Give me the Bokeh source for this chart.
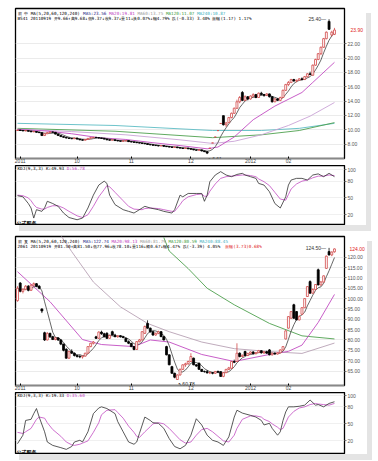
import pandas as pd
from bokeh.plotting import figure
from bokeh.models import (ColumnDataSource, Range1d, FixedTicker, Label, LinearAxis,
                          PrintfTickFormatter, Spacer)
from bokeh.layouts import column, row
from bokeh.embed import file_html
from bokeh.resources import INLINE

# ---------------- shared time axis ----------------
month_ticks = [1, 22, 42, 64, 86, 100]
month_labels = ["2011", "10", "11", "12", "2012", "02"]

# ---------------- top chart (stock 1) ----------------
top_open = [9.90, 9.95, 9.90, 9.85, 9.88, 9.80, 9.72, 9.75, 9.65, 9.60,
            9.20, 9.45, 9.60, 9.70, 9.65, 9.40, 9.20, 9.05, 8.95, 8.85,
            8.80, 8.75, 8.85, 8.70, 8.60, 8.55, 8.65, 8.80, 8.90, 8.95,
            8.90, 8.85, 8.80, 8.70, 8.60, 8.55, 8.60, 8.50, 8.45, 8.40,
            8.45, 8.50, 8.35, 8.30, 8.25, 8.20, 8.15, 8.10, 8.05, 7.95,
            7.90, 7.85, 7.80, 7.75, 7.80, 7.70, 7.65, 7.60, 7.55, 7.60,
            7.50, 7.45, 7.40, 7.45, 7.35, 7.30, 7.20, 7.15, 7.20, 7.05,
            6.95, 7.43, 8.17, 8.99, 9.89, 10.88, 11.97, 10.70, 11.00, 11.70,
            12.30, 13.00, 13.90, 15.20, 14.10, 14.60, 14.30, 14.70, 14.90, 14.50,
            15.10, 14.90, 14.80, 15.00, 14.60, 13.90, 14.30, 14.10, 14.50, 15.50,
            16.30, 16.60, 17.00, 16.80, 16.90, 17.10, 17.00, 17.40, 17.80, 17.60,
            19.00, 19.80, 20.60, 21.50, 22.70, 25.10, 23.20, 23.30]
top_close = [9.95, 9.90, 9.85, 9.88, 9.80, 9.72, 9.75, 9.65, 9.60, 9.20,
             9.45, 9.60, 9.70, 9.65, 9.40, 9.20, 9.05, 8.95, 8.85, 8.80,
             8.75, 8.85, 8.70, 8.60, 8.55, 8.65, 8.80, 8.90, 8.95, 8.90,
             8.85, 8.80, 8.70, 8.60, 8.55, 8.60, 8.50, 8.45, 8.40, 8.45,
             8.50, 8.35, 8.30, 8.25, 8.20, 8.15, 8.10, 8.05, 7.95, 7.90,
             7.85, 7.80, 7.75, 7.80, 7.70, 7.65, 7.60, 7.55, 7.60, 7.50,
             7.45, 7.40, 7.45, 7.35, 7.30, 7.20, 7.15, 7.20, 7.05, 6.95,
             6.75, 7.43, 8.17, 8.99, 9.89, 10.88, 10.70, 10.95, 11.70, 12.30,
             13.00, 13.90, 14.50, 14.10, 14.60, 14.30, 14.70, 14.90, 14.50, 15.10,
             14.90, 14.80, 15.00, 14.60, 13.90, 14.30, 14.10, 14.50, 15.50, 16.30,
             16.60, 17.00, 16.80, 16.90, 17.10, 17.00, 17.40, 17.80, 17.70, 19.00,
             19.80, 20.60, 21.50, 22.70, 23.60, 24.00, 23.60, 23.90]
top_high = [10.00, 10.00, 9.95, 9.95, 9.90, 9.85, 9.80, 9.78, 9.70, 9.62,
            9.50, 9.65, 9.75, 9.75, 9.68, 9.45, 9.25, 9.10, 9.00, 8.90,
            8.85, 8.90, 8.88, 8.72, 8.65, 8.70, 8.85, 8.95, 9.00, 8.98,
            8.92, 8.88, 8.82, 8.72, 8.65, 8.65, 8.62, 8.55, 8.48, 8.50,
            8.55, 8.52, 8.38, 8.32, 8.28, 8.22, 8.18, 8.12, 8.08, 8.00,
            7.95, 7.88, 7.82, 7.85, 7.82, 7.72, 7.68, 7.62, 7.65, 7.62,
            7.52, 7.48, 7.50, 7.48, 7.38, 7.32, 7.22, 7.25, 7.22, 7.08,
            6.98, 7.43, 8.17, 8.99, 9.89, 10.88, 11.97, 11.10, 11.80, 12.40,
            13.10, 14.20, 14.70, 15.40, 14.80, 14.70, 14.80, 15.10, 15.00, 15.20,
            15.30, 15.00, 15.10, 15.05, 14.70, 14.40, 14.40, 14.60, 15.60, 16.40,
            16.80, 17.10, 17.10, 17.00, 17.20, 17.30, 17.50, 17.90, 18.10, 19.10,
            19.90, 20.70, 21.60, 22.80, 23.70, 25.40, 23.80, 24.20]
top_low = [9.85, 9.85, 9.80, 9.80, 9.75, 9.68, 9.68, 9.60, 9.55, 9.15,
           9.15, 9.40, 9.55, 9.60, 9.35, 9.15, 9.00, 8.90, 8.80, 8.75,
           8.70, 8.72, 8.65, 8.55, 8.50, 8.52, 8.62, 8.78, 8.85, 8.85,
           8.80, 8.75, 8.65, 8.55, 8.50, 8.52, 8.45, 8.40, 8.35, 8.38,
           8.42, 8.30, 8.25, 8.20, 8.15, 8.10, 8.05, 8.00, 7.90, 7.85,
           7.80, 7.75, 7.70, 7.72, 7.65, 7.60, 7.55, 7.50, 7.52, 7.45,
           7.40, 7.35, 7.38, 7.30, 7.25, 7.15, 7.10, 7.12, 7.00, 6.90,
           6.61, 7.43, 8.17, 8.99, 9.89, 10.88, 10.60, 10.40, 10.95, 11.60,
           12.20, 12.90, 13.70, 14.00, 14.00, 14.10, 14.20, 14.50, 14.40, 14.45,
           14.80, 14.60, 14.70, 14.50, 13.80, 13.85, 14.00, 14.00, 14.45, 15.40,
           16.10, 16.50, 16.70, 16.60, 16.80, 16.90, 16.95, 17.30, 17.60, 17.50,
           18.90, 19.70, 20.40, 21.40, 22.60, 23.90, 23.00, 23.20]

top_ma20_x = [0, 10, 20, 30, 40, 50, 60, 70, 74, 80, 87, 95, 105, 109, 117]
top_ma20 = [10.05, 9.85, 9.45, 8.90, 8.65, 8.20, 7.80, 7.35, 7.60, 9.00, 11.40, 13.30, 15.20, 16.60, 19.40]
top_ma60_x = [0, 20, 40, 60, 72, 80, 90, 100, 108, 117]
top_ma60 = [10.10, 9.75, 9.30, 8.60, 8.10, 8.40, 9.30, 10.60, 11.90, 13.80]
top_ma120_x = [0, 36, 72, 90, 104, 117]
top_ma120 = [10.20, 9.80, 8.90, 9.30, 9.90, 11.00]
top_ma240_x = [0, 36, 72, 90, 104, 117]
top_ma240 = [10.90, 10.60, 9.90, 9.90, 10.20, 10.90]

top_kdj_x = [0, 2, 4, 5, 6, 7, 9, 10, 11, 13, 15, 17, 19, 22, 24, 26, 28, 30, 32, 33,
             34, 36, 39, 41, 43, 46, 47, 49, 52, 54, 57, 58, 60, 61, 63, 66, 68, 69, 70, 71,
             73, 75, 77, 79, 81, 83, 84, 86, 88, 89, 91, 93, 95, 97, 99, 100, 101, 103, 105, 107,
             109, 111, 113, 115, 117]
top_k = [54, 52, 40, 32, 14, 29, 26, 32, 44, 40, 35, 23, 15, 11, 14, 32, 55, 73, 80, 76,
         55, 38, 29, 26, 23, 32, 35, 32, 29, 26, 23, 29, 55, 52, 58, 58, 58, 44, 55, 79,
         91, 97, 91, 88, 92, 94, 91, 88, 85, 76, 73, 61, 40, 32, 52, 73, 82, 85, 85, 82,
         91, 93, 88, 94, 88]
top_d = [55, 54, 50, 45, 38, 33, 30, 30, 33, 36, 36, 32, 26, 18, 15, 20, 35, 52, 65, 72,
         70, 60, 45, 35, 30, 29, 31, 32, 31, 29, 26, 26, 38, 45, 52, 56, 57, 53, 53, 62,
         75, 85, 88, 89, 90, 91, 91, 90, 88, 84, 79, 72, 60, 48, 46, 56, 66, 75, 80, 82,
         86, 89, 89, 91, 90]

top_yticks = [8, 10, 12, 14, 16, 18, 20, 22]
top_hdr1 = [("前 中 MA(5,20,60,120,240) ", "#000000"), ("MA5:23.56 ", "#1a1a80"),
            ("MA20:19.81 ", "#c040c0"), ("MA60:13.75 ", "#9a9a9a"),
            ("MA120:11.07 ", "#3c9c3c"), ("MA240:10.87", "#40b0c0")]
top_hdr2 = [("BS41 20110919 开9.66↑高9.68↓低9.37↓收9.37↓量11↓换0.07%↓幅4.79% 跌(-0.33) 3.40% 振幅(1.17) 1.17%", "#000000")]
top_kdj_hdr = [("KDJ(9,3,3) K:49.93 ", "#000000"), ("D:56.78", "#c040c0")]

# ---------------- bottom chart (stock 2) ----------------
bot_open = [99.0, 107.5, 103.5, 104.5, 106.0, 104.0, 106.5, 107.2, 106.0, 95.0,
            83.5, 80.0, 83.2, 81.6, 80.2, 81.0, 80.0, 78.0, 75.5, 71.2,
            74.5, 73.6, 72.5, 72.0, 71.8, 72.2, 73.6, 76.8, 78.4, 81.5,
            80.8, 83.8, 83.0, 83.2, 80.8, 84.0, 82.4, 81.6, 82.0, 81.5,
            80.8, 79.2, 78.4, 76.8, 75.4, 79.2, 80.0, 83.2, 88.0, 85.7,
            84.0, 82.4, 83.2, 84.0, 81.6, 76.8, 72.8, 67.1, 63.9, 60.9,
            63.1, 65.8, 68.0, 68.5, 69.6, 71.2, 68.0, 68.8, 65.8, 64.8,
            64.7, 64.1, 64.2, 63.9, 64.8, 64.7, 62.4, 64.2, 65.8, 66.3,
            69.6, 69.6, 73.6, 72.0, 74.4, 72.5, 73.5, 74.2, 73.4, 73.9,
            74.8, 73.8, 74.3, 75.2, 72.8, 73.6, 73.2, 73.8, 75.2, 80.5,
            85.7, 90.5, 97.0, 93.7, 89.7, 92.4, 95.6, 101.0, 108.2, 102.6,
            104.4, 113.9, 106.6, 108.0, 114.6, 122.7, 121.1, 122.6]
bot_close = [105.0, 103.5, 104.5, 106.0, 104.0, 106.5, 107.2, 106.0, 105.0, 94.0,
             80.0, 83.2, 81.5, 80.2, 81.0, 80.0, 78.0, 75.0, 71.2, 74.5,
             73.6, 72.5, 72.0, 71.8, 72.2, 73.6, 76.8, 78.4, 79.0, 80.8,
             83.8, 83.0, 81.6, 80.8, 82.2, 82.4, 81.6, 82.0, 81.5, 81.2,
             79.2, 78.4, 76.8, 75.4, 79.2, 80.0, 84.0, 86.5, 85.7, 84.0,
             82.4, 83.2, 84.0, 81.6, 80.0, 72.8, 68.0, 63.9, 62.0, 63.1,
             65.8, 68.0, 68.5, 69.6, 72.0, 68.0, 67.4, 65.8, 64.8, 64.7,
             64.1, 64.2, 63.9, 64.8, 64.5, 62.4, 64.2, 65.8, 66.5, 69.6,
             69.2, 73.6, 72.0, 72.6, 72.5, 73.5, 74.2, 73.4, 73.9, 74.8,
             73.8, 74.3, 73.6, 72.8, 73.6, 73.2, 73.8, 75.2, 76.8, 84.4,
             91.3, 93.7, 90.5, 89.7, 91.3, 95.6, 100.0, 105.8, 102.6, 104.4,
             106.8, 106.6, 108.0, 111.0, 120.5, 121.1, 122.5, 124.0]
bot_high = [106.0, 108.0, 105.0, 106.5, 106.5, 107.0, 107.8, 107.5, 106.5, 95.2,
            84.0, 83.8, 83.5, 82.0, 81.5, 81.2, 80.5, 78.2, 76.0, 74.8,
            75.5, 74.0, 73.0, 72.8, 72.5, 73.8, 77.0, 78.6, 79.5, 82.0,
            84.2, 84.5, 83.5, 83.8, 82.5, 84.5, 83.0, 82.4, 82.3, 82.0,
            81.0, 79.8, 78.6, 77.2, 79.4, 80.5, 84.2, 87.0, 89.5, 86.0,
            84.3, 83.6, 84.5, 84.3, 81.9, 77.2, 73.0, 67.5, 64.2, 63.3,
            66.2, 68.2, 69.0, 70.0, 73.6, 71.5, 68.3, 69.0, 66.0, 65.2,
            65.5, 64.8, 64.5, 65.0, 65.2, 65.0, 64.5, 66.0, 67.0, 69.8,
            70.5, 78.4, 74.0, 73.0, 74.8, 73.8, 74.5, 74.6, 74.2, 75.2,
            75.0, 74.6, 74.8, 75.6, 73.9, 74.0, 74.1, 75.4, 77.0, 84.8,
            91.5, 94.0, 97.5, 94.0, 92.0, 95.8, 100.2, 106.0, 108.8, 105.0,
            107.0, 114.5, 108.5, 111.2, 120.8, 124.5, 122.8, 124.2]
bot_low = [98.5, 103.0, 102.5, 104.0, 103.5, 103.8, 106.0, 105.5, 104.5, 93.0,
           79.5, 79.8, 81.0, 80.0, 79.8, 79.5, 77.5, 74.5, 71.0, 70.8,
           73.3, 72.0, 71.5, 71.2, 71.0, 72.0, 73.5, 76.5, 77.8, 80.5,
           80.5, 82.5, 81.2, 80.5, 80.5, 82.2, 81.3, 81.0, 81.2, 80.8,
           79.0, 78.0, 76.5, 75.0, 75.2, 78.8, 79.8, 83.0, 85.5, 83.5,
           82.0, 82.0, 82.8, 81.4, 79.8, 72.6, 67.8, 63.7, 61.5, 60.78,
           62.8, 65.5, 67.0, 68.0, 69.4, 67.8, 67.0, 65.6, 64.5, 64.2,
           63.8, 63.5, 63.4, 63.6, 64.0, 62.2, 62.0, 64.0, 65.5, 66.0,
           68.8, 69.4, 71.6, 71.8, 72.3, 72.2, 73.0, 73.0, 73.0, 73.6,
           73.4, 73.2, 73.3, 72.6, 72.5, 72.9, 73.0, 73.6, 75.0, 80.2,
           85.5, 90.2, 90.3, 89.5, 89.4, 92.0, 95.4, 100.8, 102.4, 102.3,
           104.0, 106.4, 106.2, 107.8, 114.4, 120.8, 120.5, 122.2]

bot_ma20_x = [0, 12, 24, 31, 43, 49, 56, 68, 80, 93, 100, 105, 111, 117]
bot_ma20 = [113.0, 98.5, 80.2, 77.8, 76.8, 80.0, 79.0, 73.0, 69.6, 73.0, 74.5, 77.5, 88.5, 102.0]
bot_ma60_x = [16, 20, 28, 38, 48, 56, 68, 80, 93, 105, 117]
bot_ma60 = [130.5, 122.7, 108.0, 96.0, 88.0, 84.0, 79.0, 75.8, 74.4, 73.5, 78.5]
bot_ma120_x = [54, 56, 63, 70, 80, 93, 105, 117]
bot_ma120 = [129.5, 123.0, 114.5, 105.0, 97.0, 88.0, 82.0, 80.5]

bot_kdj_x = [0, 2, 3, 5, 6, 7, 8, 10, 11, 13, 16, 18, 20, 21, 23, 24, 26, 28, 30, 31,
             33, 36, 37, 39, 41, 43, 44, 45, 47, 49, 50, 52, 54, 56, 58, 60, 62, 64, 66, 68,
             70, 72, 74, 76, 78, 80, 81, 83, 86, 88, 90, 91, 93, 94, 96, 97, 98, 99, 100, 102,
             104, 106, 108, 110, 111, 113, 115, 117]
bot_k = [15, 30, 56, 58, 68, 77, 62, 36, 18, 12, 8, 5, 10, 18, 21, 18, 36, 68, 78, 80,
         77, 68, 54, 36, 18, 14, 18, 33, 62, 56, 52, 51, 42, 24, 10, 6, 12, 30, 59, 48,
         30, 21, 18, 12, 27, 62, 74, 69, 65, 62, 56, 48, 51, 42, 30, 36, 56, 71, 80, 80,
         81, 83, 92, 83, 84, 80, 86, 89]
bot_d = [35, 33, 36, 42, 50, 58, 62, 60, 52, 40, 28, 18, 13, 12, 14, 16, 20, 35, 52, 66,
         74, 75, 70, 60, 46, 35, 28, 26, 36, 45, 50, 52, 50, 42, 32, 22, 16, 18, 30, 40,
         42, 36, 28, 20, 18, 30, 42, 58, 64, 64, 62, 58, 54, 50, 44, 40, 42, 52, 62, 72,
         78, 80, 84, 86, 85, 84, 83, 86]

bot_yticks = [65, 70, 75, 80, 85, 90, 95, 100, 105, 110, 115, 120]
bot_hdr1 = [("前 复 MA(5,20,60,120,240) ", "#000000"), ("MA5:122.74 ", "#1a1a80"),
            ("MA20:98.13 ", "#c040c0"), ("MA60:81.79 ", "#9a9a9a"),
            ("MA120:80.59 ", "#3c9c3c"), ("MA240:88.45", "#40b0c0")]
bot_hdr2 = [("2061 20110919 开81.50↑高81.50↓低77.96↓收78.10↓量116↓额0.67↓幅4.47% 跌(-3.39) 4.05% ", "#000000"),
            ("振幅(3.73)0.68%", "#e02020")]
bot_kdj_hdr = [("KDJ(9,3,3) K:19.33 ", "#000000"), ("D:35.60", "#c040c0")]

kdj_ticks = [20, 50, 80, 100]

# ---------------- styling ----------------
UP = "#d24a4a"
DOWN = "#000000"
C_MA5 = "#404040"
C_MA20 = "#c24cc2"
C_MA60_TOP = "#c9a3d6"
C_MA60_BOT = "#b8a2b4"
C_MA120 = "#4ea04e"
C_MA240 = "#5cbcc4"
C_K = "#303030"
C_D = "#c24cc2"
MONO = "DejaVu Sans Mono"
AX_FONT = "Liberation Sans"
AX_FS = 5.0
HDR_FS = 4.3
X_START, X_END = -0.74, 120.7
FRAME_W = 329


def text_w(s, fs):
    return sum(fs if ord(ch) >= 0x2E80 else 0.602 * fs for ch in s)


def sans_w(s, fs):
    # Arial-metric width estimate for Liberation Sans
    return sum((0.278 if ch in ".,:" else 0.556) * fs for ch in s)


def add_segments(p, segs, y, y_off, fs):
    xo = 2.0
    for s, col in segs:
        p.add_layout(Label(x=X_START, y=y, x_offset=xo, y_offset=y_off, text=s,
                           text_color=col, text_font=MONO, text_font_size=f"{fs}px",
                           text_baseline="middle", text_align="left"))
        xo += text_w(s, fs)


def style_right_axis(ax, ticks, fmt=None, color="#555555"):
    ax.ticker = FixedTicker(ticks=ticks)
    if fmt:
        ax.formatter = PrintfTickFormatter(format=fmt)
    ax.major_label_text_font = AX_FONT
    ax.major_label_text_font_size = f"{AX_FS}px"
    ax.major_label_text_color = color
    ax.major_tick_out = 2
    ax.major_tick_in = 0
    ax.minor_tick_line_color = None
    ax.major_label_standoff = 1
    ax.axis_line_color = "#000000"
    ax.major_tick_line_color = "#777777"


def price_panel(o, h, l, c, ma_lines, y_lo, y_hi, yticks, hdr1, hdr2, frame_h, lo_prefix):
    n = len(c)
    xs = list(range(n))
    p = figure(frame_width=FRAME_W, frame_height=frame_h,
               x_range=Range1d(X_START, X_END), y_range=Range1d(y_lo, y_hi),
               output_backend="svg", toolbar_location=None, y_axis_location="right",
               min_border_left=1, min_border_right=0, min_border_top=1, min_border_bottom=0)
    p.background_fill_color = "white"
    p.border_fill_color = "white"
    p.outline_line_color = "#000000"
    p.outline_line_width = 1.3
    p.xgrid.visible = False
    p.ygrid.grid_line_color = "#e6e6e6"
    p.ygrid.grid_line_width = 0.8

    # moving averages
    ma5 = pd.Series(c).rolling(5, min_periods=1).mean().tolist()
    for mx, my, col in ma_lines:
        p.line(mx, my, line_color=col, line_width=0.9)
    p.line(xs, ma5, line_color=C_MA5, line_width=0.8)

    up = [ci >= oi for oi, ci in zip(o, c)]
    src = ColumnDataSource(dict(
        x=xs, h=h, l=l,
        top=[max(a, b) for a, b in zip(o, c)],
        bot=[min(a, b) for a, b in zip(o, c)],
        fill=["white" if u else DOWN for u in up],
        line=[UP if u else DOWN for u in up]))
    p.segment(x0="x", y0="l", x1="x", y1="h", line_color="line", line_width=0.8, source=src)
    p.vbar(x="x", width=0.72, top="top", bottom="bot", fill_color="fill",
           line_color="line", line_width=0.8, source=src)

    # high / low marks
    hi_i = max(range(n), key=lambda i: h[i])
    lo_i = min(range(n), key=lambda i: l[i])
    p.add_layout(Label(x=hi_i, y=h[hi_i], x_offset=-3, y_offset=0, text=f"{h[hi_i]:.2f}—",
                       text_font=AX_FONT, text_font_size="5px", text_color="#333333",
                       text_align="right", text_baseline="middle"))
    p.add_layout(Label(x=lo_i, y=l[lo_i], x_offset=1, y_offset=-1.5, text=f"{lo_prefix}{l[lo_i]:.2f}",
                       text_font=AX_FONT, text_font_size="5px", text_color="#333333",
                       text_align="left", text_baseline="top"))

    # axes
    main_ax = p.yaxis[0]
    style_right_axis(main_ax, yticks, "%.2f")
    xa = p.xaxis[0]
    xa.ticker = FixedTicker(ticks=month_ticks)
    xa.major_label_overrides = dict(zip(month_ticks, month_labels))
    xa.major_label_text_font = AX_FONT
    xa.major_label_text_font_size = "5px"
    xa.major_label_text_color = "#444444"
    xa.major_label_standoff = 0
    xa.major_tick_out = 0
    xa.major_tick_in = 2
    xa.minor_tick_line_color = None
    xa.axis_line_color = "#888888"

    # current price on the right axis, in red: a second axis whose label is pulled
    # back (negative standoff) into the column of the main axis labels
    last_txt = f"{c[-1]:.2f}"
    main_w = 3 + max(sans_w(f"{t:.2f}", AX_FS) for t in yticks)
    ra = LinearAxis()
    style_right_axis(ra, [c[-1]], "%.2f", color="#e02020")
    ra.axis_line_color = None
    ra.major_tick_out = 0
    ra.major_tick_line_color = None
    ra.major_label_standoff = -int(round(main_w - 2.5))
    p.add_layout(ra, "right")

    # header lines
    add_segments(p, hdr1, y_hi, -4.5, HDR_FS)
    add_segments(p, hdr2, y_hi, -10.0, HDR_FS)
    return p


def kdj_panel(x_rng, kx, k, d, y_lo, y_hi, hdr, frame_h):
    q = figure(frame_width=FRAME_W, frame_height=frame_h, x_range=x_rng,
               y_range=Range1d(y_lo, y_hi), output_backend="svg", toolbar_location=None,
               x_axis_location=None, y_axis_location="right",
               min_border_left=1, min_border_right=0, min_border_top=0, min_border_bottom=1)
    q.outline_line_color = "#000000"
    q.outline_line_width = 1.3
    q.xgrid.visible = False
    q.ygrid.grid_line_color = "#ececec"
    q.ygrid.grid_line_width = 0.8
    q.line(kx, d, line_color=C_D, line_width=0.8)
    q.line(kx, k, line_color=C_K, line_width=0.8)
    style_right_axis(q.yaxis[0], kdj_ticks)
    add_segments(q, hdr, y_hi, -3.0, HDR_FS)
    q.add_layout(Label(x=X_START, y=y_lo, x_offset=1, y_offset=2.5, text="公式服务",
                       text_font="Noto Sans CJK SC", text_font_size="5px", text_font_style="bold",
                       text_color="#000000", text_baseline="middle", text_align="left"))
    return q


p1 = price_panel(top_open, top_high, top_low, top_close,
                 [(top_ma240_x, top_ma240, C_MA240), (top_ma120_x, top_ma120, C_MA120),
                  (top_ma60_x, top_ma60, C_MA60_TOP), (top_ma20_x, top_ma20, C_MA20)],
                 6.0, 26.9, top_yticks, top_hdr1, top_hdr2, 150, "↖")
k1 = kdj_panel(p1.x_range, top_kdj_x, top_k, top_d, 2.5, 108.0, top_kdj_hdr, 59)

p2 = price_panel(bot_open, bot_high, bot_low, bot_close,
                 [(bot_ma120_x, bot_ma120, C_MA120), (bot_ma60_x, bot_ma60, C_MA60_BOT),
                  (bot_ma20_x, bot_ma20, C_MA20)],
                 58.0, 130.0, bot_yticks, bot_hdr1, bot_hdr2, 149, "↖")
k2 = kdj_panel(p2.x_range, bot_kdj_x, bot_k, bot_d, -2.3, 105.3, bot_kdj_hdr, 61)

shadow = {"box-shadow": "5px 6px 0 0 #e4e4e4"}
panel1 = column(p1, k1, styles=shadow)
panel2 = column(p2, k2, styles=shadow)
layout = column(Spacer(height=7),
                row(Spacer(width=14), panel1),
                Spacer(height=10),
                row(Spacer(width=14), panel2))

open("out.html", "w").write(file_html(layout, INLINE))
